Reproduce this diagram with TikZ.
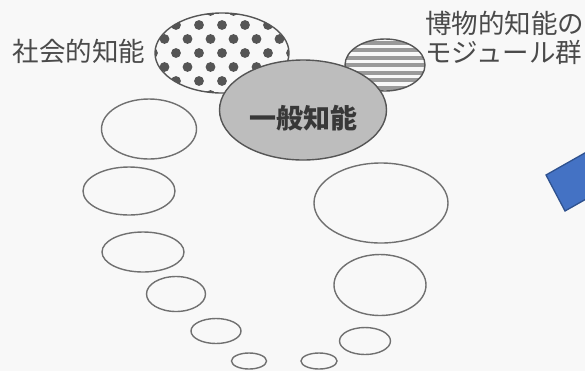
\documentclass[tikz,border=0pt]{standalone}
\usepackage{fontspec}
\newfontfamily\cjk{Noto Sans CJK JP}
\usetikzlibrary{shapes.geometric}
\definecolor{paper}{HTML}{F8F8F8}
\definecolor{outl}{HTML}{707070}
\definecolor{dotc}{HTML}{555555}
\definecolor{stripec}{HTML}{9A9A9A}
\definecolor{genfill}{HTML}{BDBDBD}
\definecolor{txt}{HTML}{4A4A4A}
\definecolor{bluef}{HTML}{4472C4}
\definecolor{blued}{HTML}{2F528F}
\tikzset{
  bubble/.style={ellipse, draw=outl, line width=1.4bp, inner sep=0pt},
  lbl/.style={font=\cjk\fontsize{26.5bp}{29bp}\selectfont, text=txt, inner sep=0pt},
}
\begin{document}
\begin{tikzpicture}[x=1bp,y=-1bp]
\useasboundingbox (0,0) rectangle (585,371);
\fill[paper] (0,0) rectangle (585,371);

% social intelligence (dotted)
\node[bubble, draw=dotc, minimum width=134bp, minimum height=80bp,
  path picture={
    \foreach \r/\o in {-42/11.5,-28/0,-14/11.5,0/0,14/11.5,28/0,42/11.5}
      \foreach \c in {-92,-69,-46,-23,0,23,46,69,92}
        \fill[dotc] (path picture bounding box.center) ++({\c+\o},\r) circle (4.9);
  }] (social) at (222,53) {};

% natural history modules (striped)
\node[bubble, draw=dotc, minimum width=80bp, minimum height=52bp,
  path picture={
    \foreach \r in {-22.5,-15,-7.5,0,7.5,15,22.5}
      \fill[stripec] (path picture bounding box.center) ++(-45,{\r-2}) rectangle ++(90,4);
  }] (natural) at (385,65) {};

% general intelligence
\node[bubble, draw=dotc, fill=genfill, minimum width=167bp, minimum height=100bp] (general) at (303,110) {};
\node[lbl, font=\cjk\bfseries\fontsize{27bp}{29bp}\selectfont, text=black!78] (gentext) at (303,118) {一般知能};

% labels
\node[lbl] (sociallbl) at (79,51) {社会的知能};
\node[lbl, align=left, anchor=west] (naturallbl) at (425,37.5) {博物的知能の\\モジュール群};

% left chain of bubbles
\node[bubble, minimum width=95bp, minimum height=60bp] (l1) at (149,129) {};
\node[bubble, minimum width=92bp, minimum height=48bp] (l2) at (129,191) {};
\node[bubble, minimum width=82bp, minimum height=40bp] (l3) at (143,252) {};
\node[bubble, minimum width=59bp, minimum height=35bp] (l4) at (176,294) {};
\node[bubble, minimum width=50bp, minimum height=25bp] (l5) at (216,331) {};
\node[bubble, minimum width=35bp, minimum height=16bp] (l6) at (249,361) {};

% right chain of bubbles
\node[bubble, minimum width=134bp, minimum height=80bp] (r1) at (381,203) {};
\node[bubble, minimum width=92bp, minimum height=61bp] (r2) at (380,285) {};
\node[bubble, minimum width=51bp, minimum height=27bp] (r3) at (365,341) {};
\node[bubble, minimum width=36bp, minimum height=16bp] (r4) at (319,361) {};

% blue shape cut by the right edge
\begin{scope}
  \clip (0,0) rectangle (585,371);
  \coordinate (ba) at (546,175);
  \coordinate (bb) at (565,211);
  \coordinate (bc) at (617,181.5);
  \coordinate (bd) at (598,145.5);
  \filldraw[fill=bluef, draw=blued, line width=1.3bp, line join=miter] (ba) -- (bb) -- (bc) -- (bd) -- cycle;
\end{scope}
\end{tikzpicture}
\end{document}
